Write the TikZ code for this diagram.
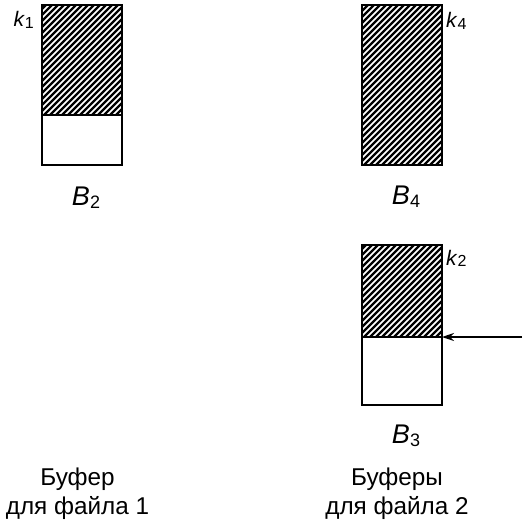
\documentclass[tikz,border=0pt]{standalone}
\usepackage{fontspec}
\setmainfont{Liberation Sans}
\usetikzlibrary{arrows.meta}
\tikzset{
  buf/.style={draw, line width=1.4pt, minimum width=80pt, inner sep=0pt, outer sep=0pt},
  hatch/.style={path picture={
      \foreach \i in {-250,-244,...,100}
        \draw[line width=2.2pt] ([xshift=\i pt]path picture bounding box.south west) -- ++(260pt,260pt);
    }},
  klab/.style={font=\fontsize{21}{22}\selectfont, inner sep=0pt},
  blab/.style={font=\fontsize{27}{28}\selectfont, inner sep=0pt, anchor=base},
  captext/.style={font=\fontsize{24.3}{26}\selectfont, inner sep=0pt, anchor=base},
}
\newcommand{\ksub}[2]{\textit{#1}\raisebox{-0.15ex}{\fontsize{16}{17}\selectfont #2}}
\newcommand{\bsub}[2]{\textit{#1}\raisebox{-0.25ex}{\fontsize{18}{20}\selectfont #2}}
\begin{document}
\begin{tikzpicture}[x=1pt,y=-1pt]
\useasboundingbox (0,0) rectangle (522,524);
% Buffer for file 1
\node[buf, hatch, minimum height=110pt] (b2top) at (82,60) {};
\node[buf, minimum height=50pt] (b2bot) at (82,140) {};
\node[klab, anchor=base east] (k1) at (34,27) {\ksub{k}{1}};
\node[blab] (b2) at (86,205) {\bsub{B}{2}};
% Buffers for file 2
\node[buf, hatch, minimum height=160pt] (b4) at (402,85) {};
\node[klab, anchor=base west] (k4) at (446,28) {\ksub{k}{4}};
\node[blab] (b4lab) at (406,204) {\bsub{B}{4}};
\node[buf, hatch, minimum height=92pt] (b3top) at (402,291) {};
\node[buf, minimum height=68pt] (b3bot) at (402,371) {};
\node[klab, anchor=base west] (k2) at (446,265) {\ksub{k}{2}};
\node[blab] (b3) at (406,443) {\bsub{B}{3}};
\coordinate (arrin) at (522,337);
\draw[line width=1.3pt, -{Stealth[length=12pt,width=8pt]}] (arrin) -- (b3top.south east);
% Captions
\node[captext] (c1a) at (77.5,485) {Буфер};
\node[captext] (c1b) at (77.5,514) {для файла 1};
\node[captext] (c2a) at (397,485) {Буферы};
\node[captext] (c2b) at (397,514) {для файла 2};
\end{tikzpicture}
\end{document}
